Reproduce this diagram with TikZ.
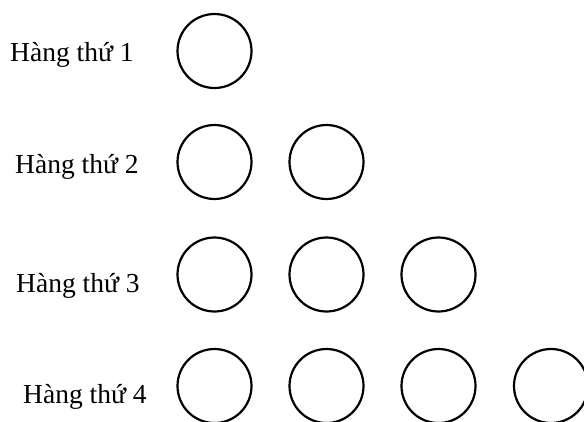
\documentclass[tikz,border=0pt]{standalone}
\usepackage{fontspec}
\setmainfont{Liberation Serif}
\tikzset{
  ball/.style={draw=black, line width=2.2pt, circle, inner sep=0pt, minimum size=74pt},
  rowlabel/.style={anchor=base west, inner sep=0pt, font=\fontsize{27.5pt}{30pt}\selectfont}
}
\begin{document}
\begin{tikzpicture}[x=1pt,y=-1pt]
\useasboundingbox (0,0) rectangle (584,421);
\node[rowlabel] (l1) at (10,61) {Hàng thứ 1};
\node[rowlabel] (l2) at (15,173) {Hàng thứ 2};
\node[rowlabel] (l3) at (16,292) {Hàng thứ 3};
\node[rowlabel] (l4) at (23,403) {Hàng thứ 4};
\node[ball] (c11) at (214.5,51) {};
\node[ball] (c21) at (214.5,162) {};
\node[ball] (c22) at (326.5,162) {};
\node[ball] (c31) at (214.5,274.5) {};
\node[ball] (c32) at (326.5,274.5) {};
\node[ball] (c33) at (438.5,274.5) {};
\node[ball] (c41) at (214.5,386) {};
\node[ball] (c42) at (326.5,386) {};
\node[ball] (c43) at (438.5,386) {};
\node[ball] (c44) at (551,386) {};
\end{tikzpicture}
\end{document}
